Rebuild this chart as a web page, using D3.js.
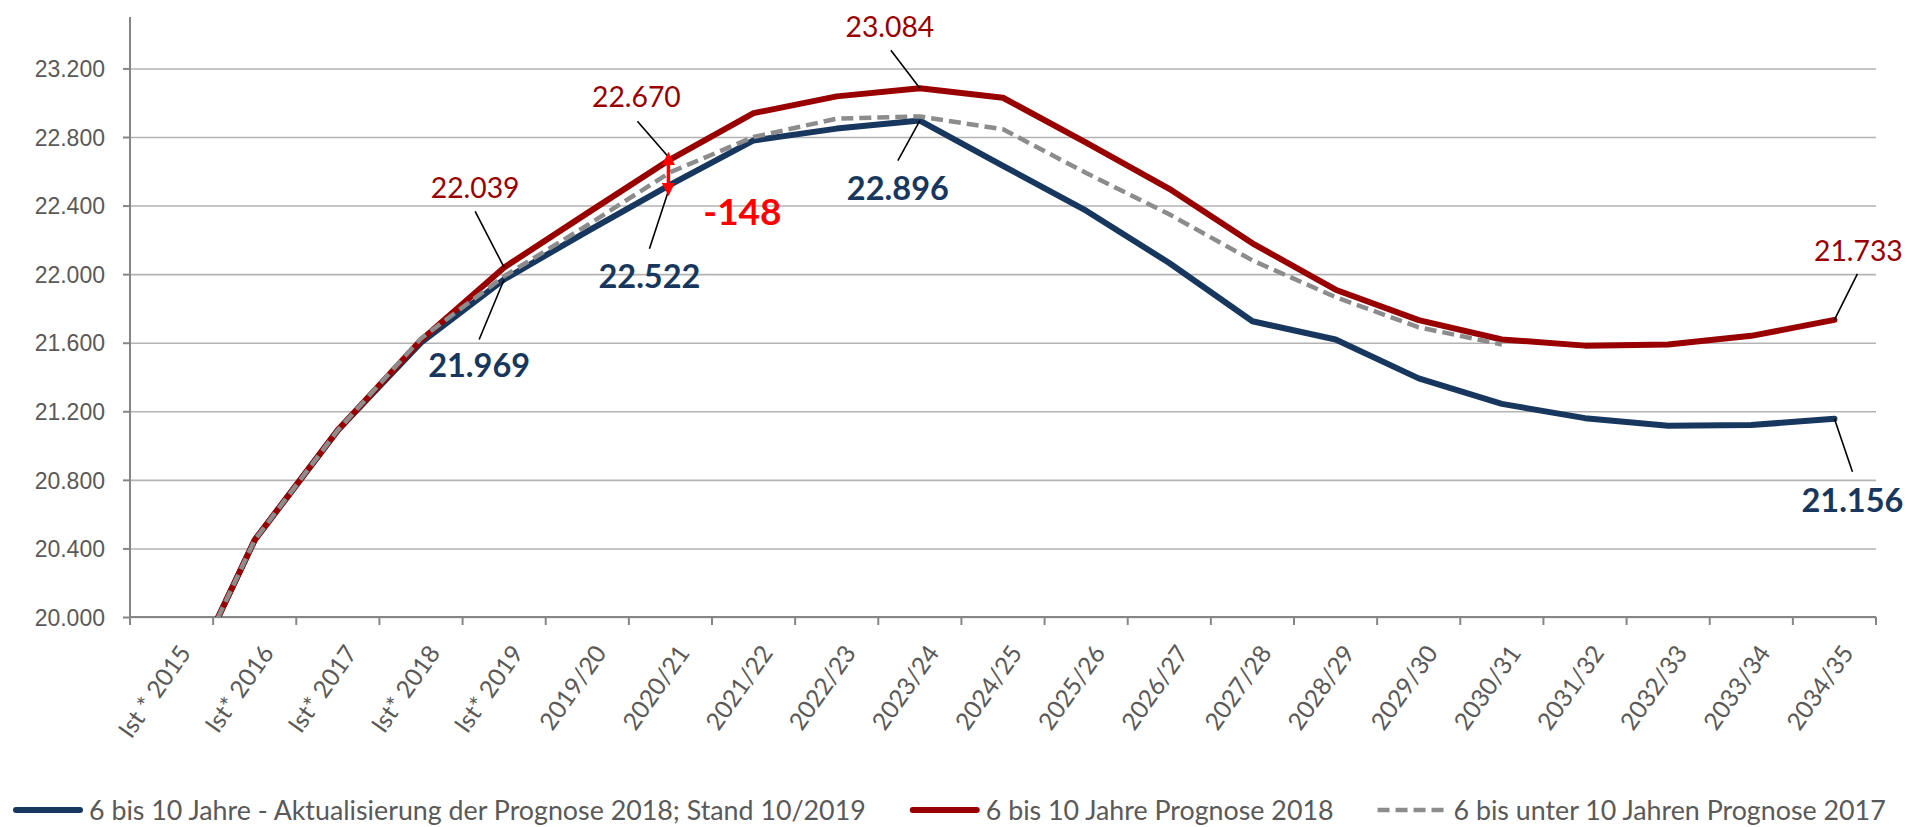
<!DOCTYPE html>
<html>
<head>
<meta charset="utf-8">
<script src="https://cdn.jsdelivr.net/npm/d3@7"></script>
<style>
  html, body { margin: 0; padding: 0; background: #fff; }
  svg { display: block; font-family: Lato, "Open Sans", sans-serif; }
</style>
</head>
<body>
<div id="chart"></div>
<script>
// categories on the x axis
var categories = ["Ist * 2015", "Ist* 2016", "Ist* 2017", "Ist* 2018", "Ist* 2019",
  "2019/20", "2020/21", "2021/22", "2022/23", "2023/24", "2024/25", "2025/26",
  "2026/27", "2027/28", "2028/29", "2029/30", "2030/31", "2031/32", "2032/33",
  "2033/34", "2034/35"];

// 6 bis 10 Jahre - Aktualisierung der Prognose 2018 (blue)
var aktualisierung = [19424, 20449, 21090, 21600, 21969, 22250, 22522, 22780, 22849,
  22896, 22632, 22370, 22065, 21725, 21619, 21392, 21243, 21160, 21115, 21120, 21156];

// 6 bis 10 Jahre Prognose 2018 (red)
var prognose2018 = [19424, 20449, 21090, 21615, 22039, 22356, 22670, 22939, 23037,
  23084, 23029, 22767, 22498, 22180, 21909, 21732, 21619, 21583, 21590, 21640, 21733];

// 6 bis unter 10 Jahren Prognose 2017 (grey dashed), ends 2030/31
var prognose2017 = [19424, 20449, 21090, 21625, 21988, 22285, 22595, 22800, 22907,
  22920, 22845, 22590, 22349, 22080, 21866, 21690, 21590, null, null, null, null];

var yTicks = [20000, 20400, 20800, 21200, 21600, 22000, 22400, 22800, 23200];
var yMin = 20000, yMax = 23500;

var legendLabels = [
  "6 bis 10 Jahre - Aktualisierung der Prognose 2018; Stand 10/2019",
  "6 bis 10 Jahre Prognose 2018",
  "6 bis unter 10 Jahren Prognose 2017"
];

// indices that carry a value label
var redLabels = [4, 6, 9, 20];
var blueLabels = [4, 6, 9, 20];
var diffIndex = 6;

var W = 1907, H = 827;
var margin = { top: 17, right: 31, bottom: 210, left: 130 },
  width = W - margin.left - margin.right,
  height = H - margin.top - margin.bottom;

var BLUE = "#17375E", RED = "#990000", GREY = "#8C8C8C", TXT = "#595959";

var de = d3.formatLocale({ decimal: ",", thousands: ".", grouping: [3], currency: ["", " €"], minus: "-" });
var fmt = de.format(",d");

var svg = d3.select("#chart").append("svg")
  .attr("width", W)
  .attr("height", H);

var defs = svg.append("defs");
defs.append("clipPath").attr("id", "plot")
  .append("rect").attr("width", width).attr("height", height);

var g = svg.append("g")
  .attr("transform", "translate(" + margin.left + "," + margin.top + ")");

var x = d3.scaleBand().domain(categories).range([0, width]).padding(0);
var y = d3.scaleLinear().domain([yMin, yMax]).range([height, 0]);
var cx = function(i) { return x(categories[i]) + x.bandwidth() / 2; };

// gridlines
g.append("g")
  .attr("class", "grid")
  .call(d3.axisLeft(y).tickValues(yTicks).tickSize(-width).tickFormat(""))
  .call(function(s) {
    s.select(".domain").remove();
    s.selectAll("line").attr("stroke", "#B3B3B3").attr("stroke-width", 1.6);
  });

// y axis
g.append("g")
  .call(d3.axisLeft(y).tickValues(yTicks).tickSize(7).tickPadding(18).tickFormat(fmt))
  .call(function(s) {
    s.select(".domain").attr("stroke", "#868686").attr("stroke-width", 2).attr("d", "M0," + height + "V0");
    s.selectAll("line").attr("stroke", "#868686").attr("stroke-width", 2);
    s.selectAll("text").attr("fill", TXT).style("font-size", "23px").attr("dy", "0.36em");
  });

// x axis (ticks between categories, as Excel does)
var xa = g.append("g").attr("transform", "translate(0," + height + ")");
xa.append("line").attr("x1", 0).attr("x2", width).attr("stroke", "#868686").attr("stroke-width", 2);
xa.selectAll("line.tick")
  .data(categories.concat(["__end"]))
  .enter().append("line")
  .attr("class", "tick")
  .attr("x1", function(d) { return d === "__end" ? width : x(d); })
  .attr("x2", function(d) { return d === "__end" ? width : x(d); })
  .attr("y1", 0).attr("y2", 8)
  .attr("stroke", "#868686").attr("stroke-width", 2);
xa.selectAll("text")
  .data(categories)
  .enter().append("text")
  .attr("transform", function(d) {
    return "translate(" + (x(d) + x.bandwidth() / 2 + 13) + ",31) rotate(-55)";
  })
  .attr("text-anchor", "end")
  .attr("dy", "0.36em")
  .attr("fill", TXT)
  .style("font-size", "24.5px")
  .text(function(d) { return d; });

// lines
var line = d3.line()
  .defined(function(d) { return d != null; })
  .x(function(d, i) { return cx(i); })
  .y(function(d) { return y(d); });

var lines = g.append("g").attr("clip-path", "url(#plot)");
lines.append("path").datum(aktualisierung)
  .attr("d", line).attr("fill", "none").attr("stroke", BLUE).attr("stroke-width", 6)
  .attr("stroke-linejoin", "round").attr("stroke-linecap", "round");
lines.append("path").datum(prognose2018)
  .attr("d", line).attr("fill", "none").attr("stroke", RED).attr("stroke-width", 6)
  .attr("stroke-linejoin", "round").attr("stroke-linecap", "round");
lines.append("path").datum(prognose2017)
  .attr("d", line).attr("fill", "none").attr("stroke", GREY).attr("stroke-width", 4.5)
  .attr("stroke-dasharray", "12,6").attr("stroke-linejoin", "round");

// data labels with leader lines
var ann = g.append("g");
function label(values, i, color, bold, size, dx, dy, lx, ly) {
  var px = cx(i), py = y(values[i]);
  ann.append("line")
    .attr("x1", px + lx).attr("y1", py + ly)
    .attr("x2", px).attr("y2", py)
    .attr("stroke", "#000").attr("stroke-width", 1.6);
  ann.append("text")
    .attr("x", px + dx).attr("y", py + dy)
    .attr("text-anchor", "middle")
    .attr("fill", color)
    .style("font-size", size + "px")
    .style("font-weight", bold ? 700 : 400)
    .text(fmt(values[i]));
}
var redOff = { 4: [-29, -69, -29, -56], 6: [-34, -52, -33, -38], 9: [-30, -51, -29, -38], 20: [24, -59, 23, -46] };
var blueOff = { 4: [-25, 98, -25, 60], 6: [-21, 103, -21, 64], 9: [-22, 79, -22, 40], 20: [18, 93, 18, 53] };
redLabels.forEach(function(i) {
  var o = redOff[i];
  label(prognose2018, i, RED, false, 28.3, o[0], o[1], o[2], o[3]);
});
blueLabels.forEach(function(i) {
  var o = blueOff[i];
  label(aktualisierung, i, BLUE, true, 32.5, o[0], o[1], o[2], o[3]);
});

// difference arrow and value
defs.append("marker")
  .attr("id", "arr")
  .attr("markerUnits", "userSpaceOnUse")
  .attr("viewBox", "0 0 10 10").attr("refX", 2).attr("refY", 5)
  .attr("markerWidth", 13).attr("markerHeight", 13)
  .attr("orient", "auto")
  .append("path").attr("d", "M0,0L10,5L0,10Z").attr("fill", "#FF0000");
var ax = cx(diffIndex) - 2;
var yTop = y(prognose2018[diffIndex]) - 7, yBot = y(aktualisierung[diffIndex]) + 11;
var yMid = (yTop + yBot) / 2;
[yTop + 10, yBot - 10].forEach(function(yy) {
  ann.append("line")
    .attr("x1", ax).attr("x2", ax)
    .attr("y1", yMid).attr("y2", yy)
    .attr("stroke", "#FF0000").attr("stroke-width", 3.5)
    .attr("marker-end", "url(#arr)");
});
ann.append("text")
  .attr("x", cx(diffIndex) + 72)
  .attr("y", y(aktualisierung[diffIndex]) + 40)
  .attr("text-anchor", "middle")
  .attr("fill", "#FF0000")
  .style("font-size", "37px").style("font-weight", 700)
  .text(fmt(aktualisierung[diffIndex] - prognose2018[diffIndex]));

// legend
var legendStyles = [
  { color: BLUE, width: 6, dash: null },
  { color: RED, width: 6, dash: null },
  { color: GREY, width: 4.5, dash: "12,6" }
];
var legend = svg.append("g").attr("transform", "translate(13,810)");
var lx = 0;
legendLabels.forEach(function(t, k) {
  var st = legendStyles[k];
  var item = legend.append("g").attr("transform", "translate(" + lx + ",0)");
  item.append("line")
    .attr("x1", st.dash ? 0 : 3).attr("x2", st.dash ? 69 : 67)
    .attr("stroke", st.color).attr("stroke-width", st.width)
    .attr("stroke-linecap", st.dash ? "butt" : "round")
    .attr("stroke-dasharray", st.dash);
  var txt = item.append("text")
    .attr("x", 76).attr("dy", "0.36em")
    .attr("fill", TXT)
    .style("font-size", "26.8px")
    .text(t);
  lx += 76 + txt.node().getComputedTextLength() + 44;
});
</script>
</body>
</html>
